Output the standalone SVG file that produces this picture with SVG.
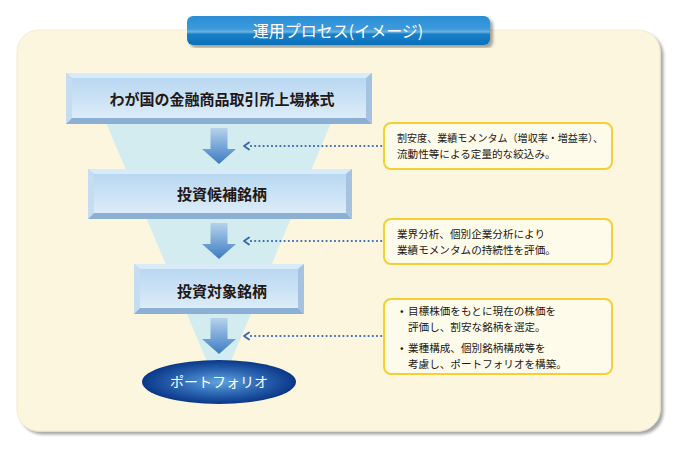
<svg xmlns="http://www.w3.org/2000/svg" width="679" height="451" viewBox="0 0 679 451">
<style>
.jp{font-family:"Noto Sans CJK JP","Noto Sans CJK SC",sans-serif;}
.boxt{font-size:15px;font-weight:bold;fill:#231815;text-anchor:middle;}
.note{font-size:10.6px;fill:#231815;}
.notebox{fill:#fffbea;stroke:#f3d034;stroke-width:2;}
.dots{fill:none;stroke:#3567b0;stroke-width:2.2;stroke-linecap:round;stroke-dasharray:0 4.2;}
.chev{fill:none;stroke:#3567b0;stroke-width:1.8;stroke-linecap:round;stroke-linejoin:round;}
</style>
<defs>
<linearGradient id="title" x1="0" y1="0" x2="0" y2="1">
<stop offset="0" stop-color="#2a8ed6"/>
<stop offset="0.45" stop-color="#3d9adb"/>
<stop offset="0.55" stop-color="#6cb4e2"/>
<stop offset="0.62" stop-color="#1a80c8"/>
<stop offset="1" stop-color="#0b70bb"/>
</linearGradient>
<linearGradient id="face" x1="0" y1="0" x2="0" y2="1">
<stop offset="0" stop-color="#b4d5f0"/>
<stop offset="1" stop-color="#e2eff9"/>
</linearGradient>
<linearGradient id="arrow" x1="0" y1="0" x2="0" y2="1">
<stop offset="0" stop-color="#b6d2ec"/>
<stop offset="1" stop-color="#3c7cc3"/>
</linearGradient>
<radialGradient id="ell" cx="0.5" cy="0.5" r="0.5">
<stop offset="0" stop-color="#5ea4dc"/>
<stop offset="0.6" stop-color="#2760ae"/>
<stop offset="1" stop-color="#0a3787"/>
</radialGradient>
<filter id="sh" x="-5%" y="-5%" width="110%" height="115%">
<feGaussianBlur in="SourceAlpha" stdDeviation="1.5"/>
<feOffset dx="3" dy="3"/>
<feComponentTransfer><feFuncA type="linear" slope="0.35"/></feComponentTransfer>
<feMerge><feMergeNode/><feMergeNode in="SourceGraphic"/></feMerge>
</filter>
<g id="arrowShape">
<path d="M-8.5,0 H8.5 V21 H17 L0,36 L-17,21 H-8.5 Z" fill="url(#arrow)"/>
</g>
</defs>

<g id="panel">
<rect x="17" y="30" width="643" height="401" rx="22" fill="#fdf6df" stroke="#f1ead3" stroke-width="1" filter="url(#sh)"/>
</g>

<g id="title">
<rect x="187" y="16" width="303" height="29" rx="6" fill="url(#title)" filter="url(#sh)"/>
<text class="jp" x="338" y="37" font-size="16" fill="#ffffff" text-anchor="middle">運用プロセス(イメージ)</text>
</g>

<g id="funnel">
<polygon points="104,118 333,118 219,390" fill="#d3ecef"/>
</g>

<g id="connectors">
<use href="#arrowShape" x="219" y="128"/>
<use href="#arrowShape" x="219" y="223"/>
<use href="#arrowShape" x="219" y="318"/>
<line class="dots" x1="251" y1="146" x2="383" y2="146"/>
<path class="chev" d="M249,142.5 L244,146 L249,149.5"/>
<line class="dots" x1="251" y1="241" x2="383" y2="241"/>
<path class="chev" d="M249,237.5 L244,241 L249,244.5"/>
<line class="dots" x1="251" y1="336" x2="383" y2="336"/>
<path class="chev" d="M249,332.5 L244,336 L249,339.5"/>
</g>

<g id="box1">
<rect x="66" y="73" width="306" height="51" fill="url(#face)"/>
<polygon points="66,73 372,73 366,78 72,78" fill="#d9eaf8"/>
<polygon points="66,73 72,78 72,118 66,124" fill="#c6dcf0"/>
<polygon points="372,73 372,124 366,118 366,78" fill="#a5c3e0"/>
<polygon points="66,124 72,118 366,118 372,124" fill="#8cb0d4"/>
<text class="jp boxt" x="222" y="105">わが国の金融商品取引所上場株式</text>
</g>

<g id="box2">
<rect x="88" y="169" width="264" height="50" fill="url(#face)"/>
<polygon points="88,169 352,169 346,174 94,174" fill="#d9eaf8"/>
<polygon points="88,169 94,174 94,213 88,219" fill="#c6dcf0"/>
<polygon points="352,169 352,219 346,213 346,174" fill="#a5c3e0"/>
<polygon points="88,219 94,213 346,213 352,219" fill="#8cb0d4"/>
<text class="jp boxt" x="222" y="200">投資候補銘柄</text>
</g>

<g id="box3">
<rect x="134" y="264" width="170" height="50" fill="url(#face)"/>
<polygon points="134,264 304,264 298,269 140,269" fill="#d9eaf8"/>
<polygon points="134,264 140,269 140,308 134,314" fill="#c6dcf0"/>
<polygon points="304,264 304,314 298,308 298,269" fill="#a5c3e0"/>
<polygon points="134,314 140,308 298,308 304,314" fill="#8cb0d4"/>
<text class="jp boxt" x="222" y="297">投資対象銘柄</text>
</g>

<g id="portfolio">
<ellipse cx="219" cy="382" rx="77" ry="22" fill="url(#ell)"/>
<text class="jp" x="219" y="387" font-size="14" fill="#ffffff" text-anchor="middle">ポートフォリオ</text>
</g>

<g id="noteA">
<rect class="notebox" x="384" y="123" width="228" height="46" rx="7"/>
<text class="jp note" x="397" y="142" textLength="206" lengthAdjust="spacingAndGlyphs">割安度、業績モメンタム（増収率・増益率）、</text>
<text class="jp note" x="397" y="158">流動性等による定量的な絞込み。</text>
</g>

<g id="noteB">
<rect class="notebox" x="384" y="219" width="228" height="45" rx="7"/>
<text class="jp note" x="397" y="238">業界分析、個別企業分析により</text>
<text class="jp note" x="397" y="254">業績モメンタムの持続性を評価。</text>
</g>

<g id="noteC">
<rect class="notebox" x="384" y="299" width="228" height="75" rx="7"/>
<text class="jp note" x="400" y="315">•</text>
<text class="jp note" x="408" y="315">目標株価をもとに現在の株価を</text>
<text class="jp note" x="408" y="331">評価し、割安な銘柄を選定。</text>
<text class="jp note" x="400" y="352">•</text>
<text class="jp note" x="408" y="352">業種構成、個別銘柄構成等を</text>
<text class="jp note" x="408" y="368">考慮し、ポートフォリオを構築。</text>
</g>
</svg>
